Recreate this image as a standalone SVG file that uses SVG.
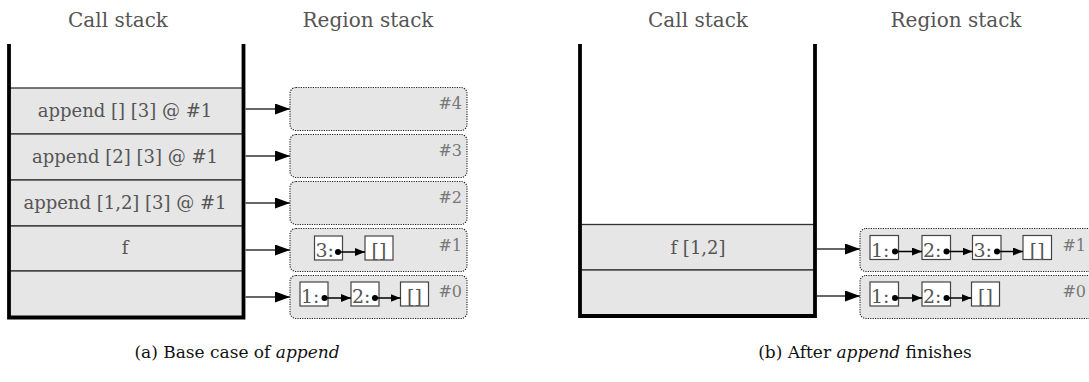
<svg xmlns="http://www.w3.org/2000/svg" width="1089" height="382" viewBox="0 0 1089 382">
  <style>
    .hdr { font-family: "DejaVu Serif", "Liberation Serif", serif; font-size: 20px; fill: #555; text-anchor: middle; }
    .frame { font-family: "DejaVu Serif", "Liberation Serif", serif; font-size: 18px; fill: #555; text-anchor: middle; }
    .row { fill: #e6e6e6; stroke: #333; stroke-width: 1.3; }
    .wall { fill: none; stroke: #000; stroke-width: 3.8; stroke-linejoin: miter; }
    .region { fill: #e6e6e6; stroke: #222; stroke-width: 1.1; stroke-dasharray: 1.2 1.2; }
    .rlabel { font-family: "DejaVu Serif", "Liberation Serif", serif; font-size: 16px; fill: #777; text-anchor: end; }
    .cell { fill: #fff; stroke: #444; stroke-width: 1.2; }
    .ctext { font-family: "DejaVu Serif", "Liberation Serif", serif; font-size: 19px; fill: #555; }
    .dot { fill: #000; }
    .link { stroke: #333; stroke-width: 1.3; fill: none; }
    .ptr { stroke: #000; stroke-width: 1.5; fill: none; }
    .cap { font-family: "DejaVu Serif", "Liberation Serif", serif; font-size: 17px; fill: #111; text-anchor: middle; }
  </style>
  <defs>
    <marker id="bigHead" markerUnits="userSpaceOnUse" markerWidth="16" markerHeight="11" refX="15" refY="5.5" orient="auto">
      <path d="M0,0 L15,5.5 L0,11 z" fill="#000"/>
    </marker>
    <marker id="smallHead" markerUnits="userSpaceOnUse" markerWidth="11" markerHeight="8" refX="10" refY="4" orient="auto">
      <path d="M0,0 L10,4 L0,8 z" fill="#000"/>
    </marker>
  </defs>

  <!-- ===== (a) base case of append ===== -->
  <g id="a-headers">
    <text class="hdr" x="118" y="27">Call stack</text>
    <text class="hdr" x="368" y="27">Region stack</text>
  </g>

  <g id="a-callstack">
    <g id="a-frame4">
      <rect class="row" x="9" y="88" width="234" height="46"/>
      <text class="frame" x="125" y="117">append [] [3] @ #1</text>
    </g>
    <g id="a-frame3">
      <rect class="row" x="9" y="134" width="234" height="46"/>
      <text class="frame" x="125" y="163">append [2] [3] @ #1</text>
    </g>
    <g id="a-frame2">
      <rect class="row" x="9" y="180" width="234" height="46"/>
      <text class="frame" x="125" y="209">append [1,2] [3] @ #1</text>
    </g>
    <g id="a-frame1">
      <rect class="row" x="9" y="226" width="234" height="45"/>
      <text class="frame" x="125" y="254">f</text>
    </g>
    <g id="a-frame0">
      <rect class="row" x="9" y="271" width="234" height="46"/>
    </g>
    <path class="wall" d="M9,44 V317.5 H243.5 V44"/>
  </g>

  <g id="a-region4">
    <rect class="region" x="290" y="87.5" width="177" height="43" rx="6"/>
    <text class="rlabel" x="462" y="109">#4</text>
  </g>
  <g id="a-region3">
    <rect class="region" x="290" y="134.5" width="177" height="43" rx="6"/>
    <text class="rlabel" x="462" y="156">#3</text>
  </g>
  <g id="a-region2">
    <rect class="region" x="290" y="181.5" width="177" height="43" rx="6"/>
    <text class="rlabel" x="462" y="203">#2</text>
  </g>
  <g id="a-region1">
    <rect class="region" x="290" y="228.5" width="177" height="43" rx="6"/>
    <text class="rlabel" x="462" y="251">#1</text>
    <g id="a-r1-cons3">
      <rect class="cell" x="314.5" y="236" width="28" height="24"/>
      <text class="ctext" x="315.5" y="257">3:</text>
      <circle class="dot" cx="338" cy="252" r="3"/>
    </g>
    <g id="a-r1-nil">
      <rect class="cell" x="365" y="236" width="28" height="24"/>
      <text class="ctext" x="379" y="257" text-anchor="middle">[]</text>
    </g>
  </g>
  <g id="a-region0">
    <rect class="region" x="290" y="275.5" width="177" height="43" rx="6"/>
    <text class="rlabel" x="462" y="297">#0</text>
    <g id="a-r0-cons1">
      <rect class="cell" x="300" y="282" width="28" height="24"/>
      <text class="ctext" x="301" y="303">1:</text>
      <circle class="dot" cx="324.5" cy="298" r="3"/>
    </g>
    <g id="a-r0-cons2">
      <rect class="cell" x="351" y="282" width="28" height="24"/>
      <text class="ctext" x="352" y="303">2:</text>
      <circle class="dot" cx="375" cy="298" r="3"/>
    </g>
    <g id="a-r0-nil">
      <rect class="cell" x="400.5" y="282" width="28" height="24"/>
      <text class="ctext" x="414.5" y="303" text-anchor="middle">[]</text>
    </g>
  </g>

  <g id="a-connectors">
    <line class="link" x1="245.5" y1="109" x2="290" y2="109" marker-end="url(#bigHead)"/>
    <line class="link" x1="245.5" y1="156" x2="290" y2="156" marker-end="url(#bigHead)"/>
    <line class="link" x1="245.5" y1="203" x2="290" y2="203" marker-end="url(#bigHead)"/>
    <line class="link" x1="245.5" y1="250" x2="290" y2="250" marker-end="url(#bigHead)"/>
    <line class="link" x1="245.5" y1="297" x2="290" y2="297" marker-end="url(#bigHead)"/>
    <line class="ptr" x1="338" y1="252" x2="365" y2="252" marker-end="url(#smallHead)"/>
    <line class="ptr" x1="324.5" y1="298" x2="351" y2="298" marker-end="url(#smallHead)"/>
    <line class="ptr" x1="375" y1="298" x2="400.5" y2="298" marker-end="url(#smallHead)"/>
  </g>

  <text class="cap" x="237" y="358">(a) Base case of <tspan font-style="italic">append</tspan></text>

  <!-- ===== (b) after append finishes ===== -->
  <g id="b-headers">
    <text class="hdr" x="698" y="27">Call stack</text>
    <text class="hdr" x="956" y="27">Region stack</text>
  </g>

  <g id="b-callstack">
    <g id="b-frame1">
      <rect class="row" x="580" y="224.5" width="235" height="45.5"/>
      <text class="frame" x="698" y="254">f [1,2]</text>
    </g>
    <g id="b-frame0">
      <rect class="row" x="580" y="270" width="235" height="46"/>
    </g>
    <path class="wall" d="M580,44 V316 H815 V44"/>
  </g>

  <g id="b-region1">
    <rect class="region" x="860" y="228.5" width="236" height="43" rx="6"/>
    <text class="rlabel" x="1086" y="251">#1</text>
    <g id="b-r1-cons1">
      <rect class="cell" x="870" y="235.5" width="28.5" height="24"/>
      <text class="ctext" x="871" y="256.5">1:</text>
      <circle class="dot" cx="895" cy="251.5" r="3"/>
    </g>
    <g id="b-r1-cons2">
      <rect class="cell" x="922" y="235.5" width="28.5" height="24"/>
      <text class="ctext" x="923" y="256.5">2:</text>
      <circle class="dot" cx="946.5" cy="251.5" r="3"/>
    </g>
    <g id="b-r1-cons3">
      <rect class="cell" x="972.5" y="235.5" width="28.5" height="24"/>
      <text class="ctext" x="973.5" y="256.5">3:</text>
      <circle class="dot" cx="997" cy="251.5" r="3"/>
    </g>
    <g id="b-r1-nil">
      <rect class="cell" x="1023" y="235.5" width="28.5" height="24"/>
      <text class="ctext" x="1037.25" y="256.5" text-anchor="middle">[]</text>
    </g>
  </g>
  <g id="b-region0">
    <rect class="region" x="860" y="275.5" width="236" height="43" rx="6"/>
    <text class="rlabel" x="1086" y="297">#0</text>
    <g id="b-r0-cons1">
      <rect class="cell" x="870" y="282" width="28.5" height="24"/>
      <text class="ctext" x="871" y="303">1:</text>
      <circle class="dot" cx="895" cy="298" r="3"/>
    </g>
    <g id="b-r0-cons2">
      <rect class="cell" x="922" y="282" width="28.5" height="24"/>
      <text class="ctext" x="923" y="303">2:</text>
      <circle class="dot" cx="946.5" cy="298" r="3"/>
    </g>
    <g id="b-r0-nil">
      <rect class="cell" x="971.5" y="282" width="28" height="24"/>
      <text class="ctext" x="985.5" y="303" text-anchor="middle">[]</text>
    </g>
  </g>

  <g id="b-connectors">
    <line class="link" x1="817" y1="249" x2="860" y2="249" marker-end="url(#bigHead)"/>
    <line class="link" x1="817" y1="296" x2="860" y2="296" marker-end="url(#bigHead)"/>
    <line class="ptr" x1="895" y1="251.5" x2="922" y2="251.5" marker-end="url(#smallHead)"/>
    <line class="ptr" x1="946.5" y1="251.5" x2="972.5" y2="251.5" marker-end="url(#smallHead)"/>
    <line class="ptr" x1="997" y1="251.5" x2="1023" y2="251.5" marker-end="url(#smallHead)"/>
    <line class="ptr" x1="895" y1="298" x2="922" y2="298" marker-end="url(#smallHead)"/>
    <line class="ptr" x1="946.5" y1="298" x2="971.5" y2="298" marker-end="url(#smallHead)"/>
  </g>

  <text class="cap" x="865" y="358">(b) After <tspan font-style="italic">append</tspan> finishes</text>
</svg>
